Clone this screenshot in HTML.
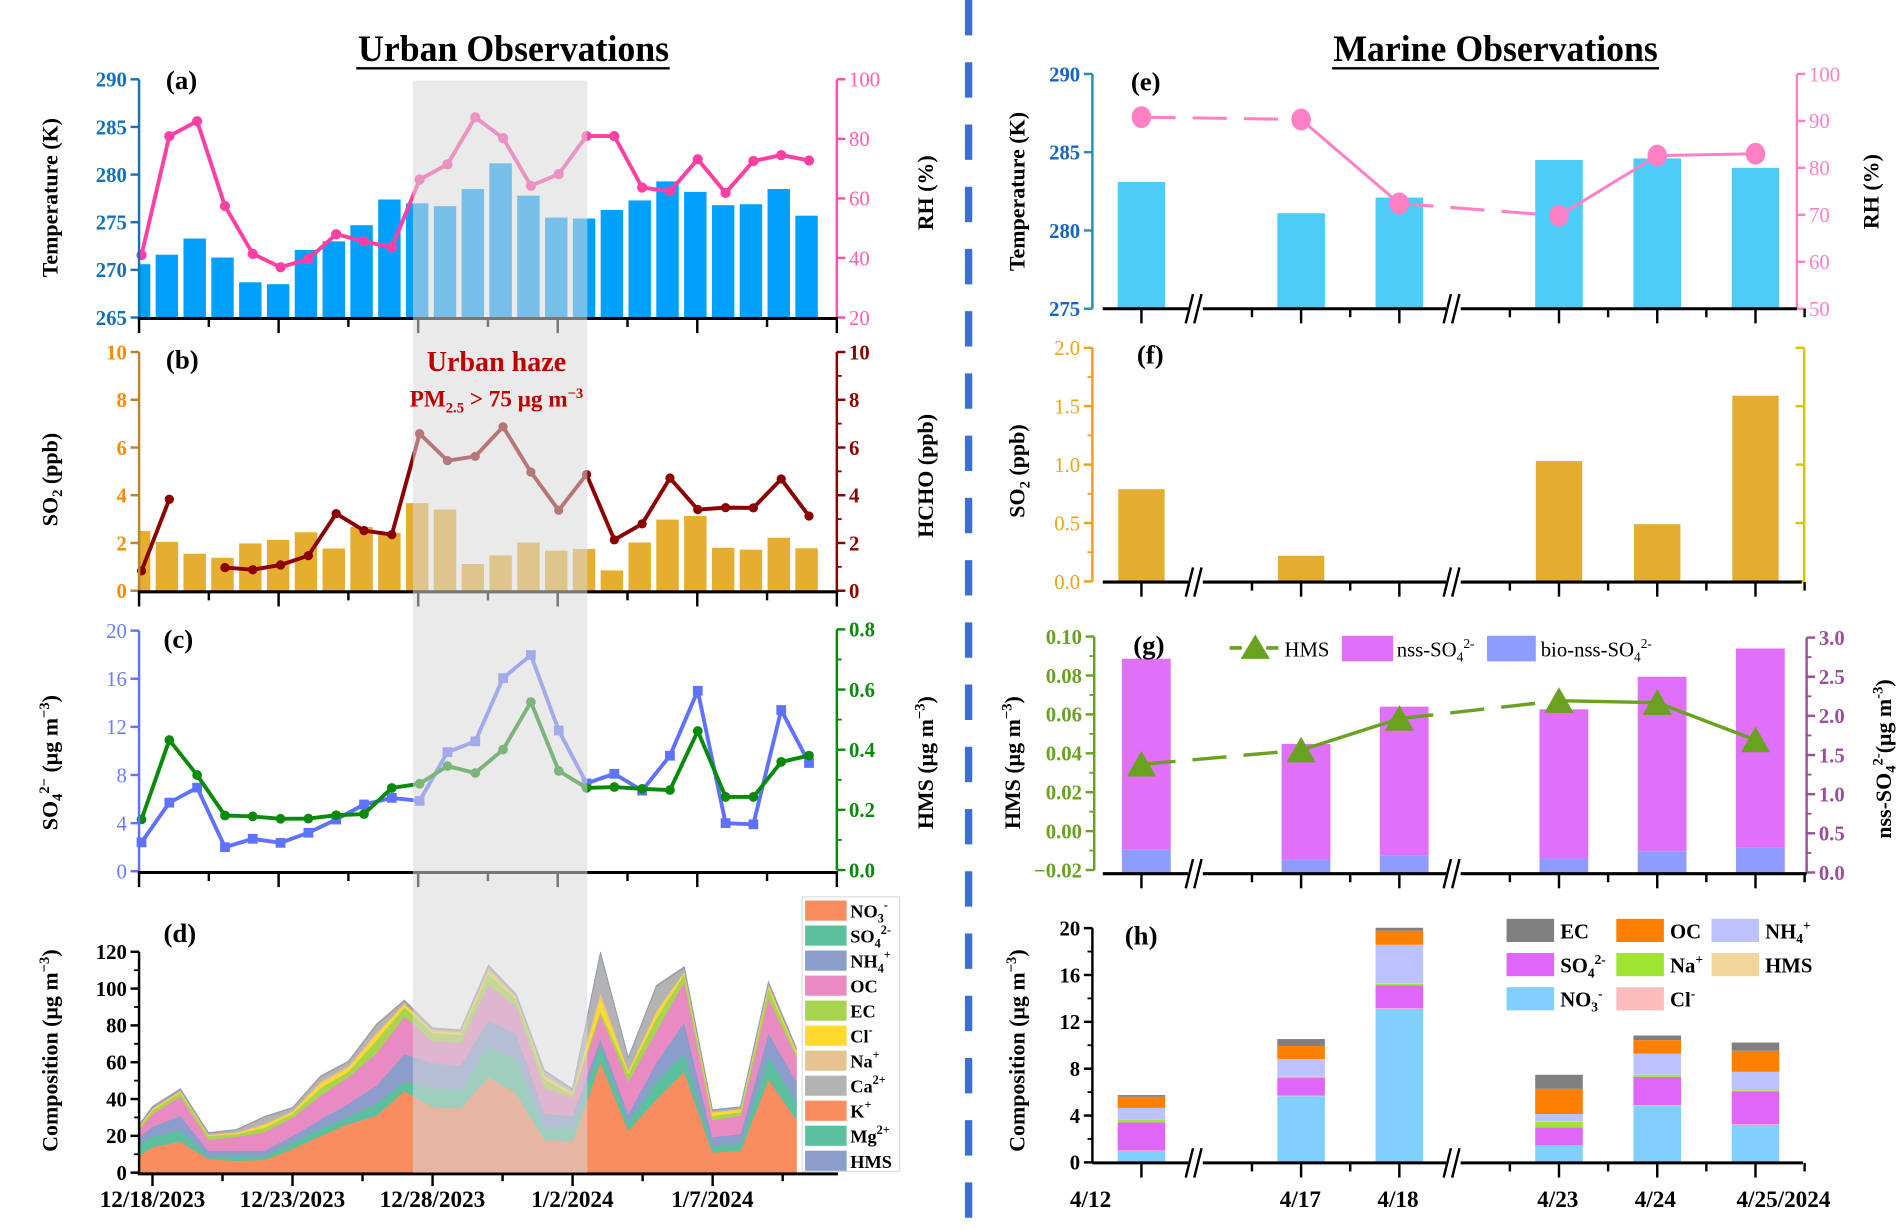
<!DOCTYPE html>
<html><head><meta charset="utf-8"><title>Urban and Marine Observations</title>
<style>
html,body{margin:0;padding:0;background:#fff;width:1903px;height:1230px;overflow:hidden}
svg{display:block;font-family:"Liberation Serif","DejaVu Serif",serif}
.ax{font-weight:bold;font-size:18px}
</style></head>
<body>
<svg id="fig" xmlns="http://www.w3.org/2000/svg" width="1903" height="1230" viewBox="0 0 1560 1008" preserveAspectRatio="none">
<defs>
<clipPath id="clipA"><rect x="114" y="50" width="572" height="220"/></clipPath>
<clipPath id="clipB"><rect x="114" y="280" width="572" height="205"/></clipPath>
</defs>
<text x="421" y="50" text-anchor="middle" font-size="30" font-weight="bold" textLength="255" lengthAdjust="spacingAndGlyphs">Urban Observations</text>
<line x1="292" y1="56" x2="549" y2="56" stroke="#000" stroke-width="2"/>
<text x="1226" y="50" text-anchor="middle" font-size="30" font-weight="bold" textLength="266" lengthAdjust="spacingAndGlyphs">Marine Observations</text>
<line x1="1092" y1="56" x2="1360" y2="56" stroke="#000" stroke-width="2"/>
<line x1="794" y1="0" x2="794" y2="1008" stroke="#3b6fd4" stroke-width="6" stroke-dasharray="29 22"/>
<g id="layer"></g>
<text class="ax" transform="translate(47,162) rotate(-90)" text-anchor="middle">Temperature (K)</text>
<text class="ax" transform="translate(765,158) rotate(-90)" text-anchor="middle">RH (%)</text>
<text class="ax" transform="translate(47,393) rotate(-90)" text-anchor="middle">SO<tspan font-size="12" dy="4">2</tspan><tspan dy="-4"> (ppb)</tspan></text>
<text class="ax" transform="translate(765,390) rotate(-90)" text-anchor="middle">HCHO (ppb)</text>
<text class="ax" transform="translate(47,625) rotate(-90)" text-anchor="middle">SO<tspan font-size="12" dy="4">4</tspan><tspan font-size="12" dy="-11">2−</tspan><tspan dy="7"> (μg m</tspan><tspan font-size="12" dy="-7">−3</tspan><tspan dy="7">)</tspan></text>
<text class="ax" transform="translate(765,625) rotate(-90)" text-anchor="middle">HMS (μg m<tspan font-size="12" dy="-7">−3</tspan><tspan dy="7">)</tspan></text>
<text class="ax" transform="translate(47,861) rotate(-90)" text-anchor="middle">Composition  (μg m<tspan font-size="12" dy="-7">−3</tspan><tspan dy="7">)</tspan></text>
<text class="ax" transform="translate(840,157) rotate(-90)" text-anchor="middle">Temperature (K)</text>
<text class="ax" transform="translate(1540,157) rotate(-90)" text-anchor="middle">RH (%)</text>
<text class="ax" transform="translate(840,386) rotate(-90)" text-anchor="middle">SO<tspan font-size="12" dy="4">2</tspan><tspan dy="-4"> (ppb)</tspan></text>
<text class="ax" transform="translate(836,625) rotate(-90)" text-anchor="middle">HMS (μg m<tspan font-size="12" dy="-7">−3</tspan><tspan dy="7">)</tspan></text>
<text class="ax" transform="translate(1550,622) rotate(-90)" text-anchor="middle">nss-SO<tspan font-size="12" dy="4">4</tspan><tspan font-size="12" dy="-11">2-</tspan><tspan dy="7">(μg m</tspan><tspan font-size="12" dy="-7">-3</tspan><tspan dy="7">)</tspan></text>
<text class="ax" transform="translate(840,861) rotate(-90)" text-anchor="middle">Composition  (μg m<tspan font-size="12" dy="-7">−3</tspan><tspan dy="7">)</tspan></text>
<text x="136" y="73" font-size="22" font-weight="bold">(a)</text>
<text x="136" y="302" font-size="22" font-weight="bold">(b)</text>
<text x="134" y="531" font-size="22" font-weight="bold">(c)</text>
<text x="134" y="772" font-size="22" font-weight="bold">(d)</text>
<text x="927" y="74" font-size="22" font-weight="bold">(e)</text>
<text x="932" y="298" font-size="22" font-weight="bold">(f)</text>
<text x="929" y="536" font-size="22" font-weight="bold">(g)</text>
<text x="922" y="774" font-size="22" font-weight="bold">(h)</text>
<text x="407" y="304" text-anchor="middle" font-size="23" font-weight="bold" fill="#c00000">Urban haze</text>
<text x="407" y="333" text-anchor="middle" font-size="19" font-weight="bold" fill="#c00000">PM<tspan font-size="12" dy="5">2.5</tspan><tspan dy="-5"> &gt; 75 μg m</tspan><tspan font-size="12" dy="-7">−3</tspan></text>
</svg>
<script>
const urbanDays = 25;
const tempA = [270.6,271.6,273.3,271.3,268.7,268.5,272.1,273.0,274.7,277.4,277.0,276.7,278.5,281.2,277.8,275.5,275.4,276.3,277.3,279.3,278.2,276.8,276.9,278.5,275.7];
const rhA = [41,81,86,57.5,41.4,36.9,39.7,48,45.6,43.6,66.4,71.5,87.3,80.3,64.3,68.2,81,81,63.7,62.4,73.2,61.9,72.6,74.6,72.8];
const so2B = [2.5,2.05,1.55,1.38,1.98,2.13,2.45,1.77,2.67,2.42,3.67,3.4,1.12,1.48,2.02,1.68,1.75,0.85,2.02,2.98,3.13,1.8,1.72,2.22,1.78];
const hchoB = [0.83,3.83,null,0.97,0.88,1.08,1.47,3.23,2.52,2.35,6.58,5.45,5.63,6.87,4.97,3.37,4.87,2.13,2.8,4.72,3.4,3.48,3.47,4.68,3.13];
const so4C = [2.4,5.7,6.95,2.0,2.7,2.36,3.2,4.3,5.55,6.1,5.85,9.9,10.8,16.05,17.97,11.7,7.3,8.1,6.7,9.6,15.0,4.0,3.9,13.4,9.0];
const hmsC = [0.169,0.434,0.317,0.182,0.179,0.171,0.172,0.183,0.187,0.274,0.288,0.347,0.324,0.402,0.561,0.331,0.274,0.277,0.271,0.267,0.464,0.244,0.244,0.361,0.382];
const dDays = [-0.5,0,1,2,3,4,5,6,7,8,9,10,11,12,13,14,15,16,17,18,19,20,21,22,23];
const dNO3 = [9,14,17,7.5,6.5,7,13,20,26.5,31,44.5,35.7,35,52,43,17.7,17.2,60,23,40,55,11,12,50.8,29];
const dSO4 = [6.5,5.5,6,1.5,2.5,2,3.5,4,4,6.5,5,10.3,10,16.4,19,6.6,7.1,9.5,4.6,9.7,10,3.3,4,12.2,9.6];
const dNH4 = [3.5,5.5,8,3,3,3,3.5,5,7,10,15,13.6,13,14.4,13.5,7.7,6.7,3.5,4.4,10.3,16.7,5.1,5,13,11.1];
const dOC = [4,7,10.5,6,7.5,10,10,13,14.5,17.5,20.5,12.1,12.6,19.2,15,14,10,13,17.7,17,22.3,9.3,10,19,13.3];
const dEC = [1,2,2,2,1.5,2.5,2,4,3,7,5,4.3,4.4,6,3.5,5,1.4,2,4.3,7,4,2.3,2,5.4,2];
const dCl = [0.5,0.5,0.6,0.5,0.5,1.5,1,2.5,2,3,1.5,1,1,2,1,1.5,0.9,7,1,3,1,1.7,1.2,1.1,1];
const dNa = [0.3,0.3,0.4,0.3,0.5,0.5,0.5,1,1,1,0.5,0.5,0.5,1,0.5,0.5,0.5,3,1,1,0.5,0.3,0.3,0.5,0.5];
const dCa = [0.2,0.5,0.5,0.5,1,3.5,1.5,2.5,2,4,1,0.5,0.5,1,0.5,2,1.2,21,6,13,1.5,0.8,0.8,1,0.5];
const dK = [0.3,0.3,0.3,0.2,0.2,0.2,0.2,0.3,0.3,0.4,0.4,0.3,0.3,0.4,0.3,0.3,0.2,0.4,0.3,0.4,0.4,0.2,0.2,0.4,0.3];
const dMg = [0.1,0.1,0.1,0.1,0.1,0.1,0.1,0.1,0.1,0.1,0.1,0.1,0.1,0.1,0.1,0.1,0.1,0.2,0.1,0.1,0.1,0.1,0.1,0.1,0.1];
const dHMS = [0.2,0.4,0.3,0.2,0.2,0.2,0.2,0.2,0.2,0.3,0.3,0.3,0.3,0.4,0.6,0.3,0.3,0.3,0.3,0.3,0.5,0.2,0.2,0.4,0.4];
const urbanTickLabels = ['12/18/2023','12/23/2023','12/28/2023','1/2/2024','1/7/2024'];
const marineCats = ['4/12','4/17','4/18','4/23','4/24','4/25/2024'];
const tempE = [283.1,281.1,282.1,284.5,284.6,284.0];
const rhE = [90.8,90.3,72.4,69.8,82.6,83.0];
const so2F = [0.79,0.22,null,1.03,0.49,1.59];
const bioG = [0.29,0.166,0.22,0.177,0.27,0.32];
const nssG = [2.43,1.47,1.89,1.90,2.22,2.53];
const hmsG = [0.0343,0.0416,0.0578,0.067,0.066,0.0468];
const hNO3 = [0.97,5.65,13.1,1.4,4.85,3.2];
const hCl = [0.05,0.05,0.05,0.05,0.05,0.05];
const hSO4 = [2.4,1.5,1.95,1.55,2.4,2.8];
const hNa = [0.24,0.1,0.15,0.47,0.15,0.1];
const hHMS = [0.03,0.03,0.03,0.03,0.03,0.03];
const hNH4 = [0.96,1.5,3.3,0.63,1.8,1.55];
const hOC = [0.95,1.1,1.2,2.15,1.15,1.8];
const hEC = [0.15,0.6,0.25,1.2,0.4,0.7];

const NS='http://www.w3.org/2000/svg';
const layer=document.getElementById('layer');
function mk(tag, attrs, name, parent){
  const el=document.createElementNS(NS,tag);
  for(const k in attrs) el.setAttribute(k,attrs[k]);
  
  
  (parent||layer).appendChild(el);
  return el;
}
function txt(x,y,s,attrs,name,parent){
  const el=mk('text',Object.assign({x:x,y:y},attrs),name,parent);
  el.textContent=s; return el;
}
function lin(x1,y1,x2,y2,stroke,w,name,parent){
  return mk('line',{x1:x1,y1:y1,x2:x2,y2:y2,stroke:stroke,'stroke-width':w},name,parent);
}
function yAxis(x,yTop,yBot,vmin,vmax,step,minorStep,color,labelColor,side,fmt,bold,name){
  const g=mk('g',{},name);
  lin(x,yTop,x,yBot,color,2,name+'-line',g);
  const sc=v=>yBot-(v-vmin)/(vmax-vmin)*(yBot-yTop);
  const dir=side==='left'?-1:1;
  if(minorStep){for(let v=vmin;v<=vmax+1e-9;v+=minorStep){lin(x,sc(v),x+dir*4,sc(v),color,1.5,name+'-minor-tick',g);}}
  for(let v=vmin;v<=vmax+1e-9;v+=step){
    const y=sc(v);
    lin(x,y,x+dir*7,y,color,2,name+'-tick',g);
    txt(x+dir*10,y+6,fmt(v),{'text-anchor':side==='left'?'end':'start','font-size':17,'font-weight':bold?'bold':'normal',fill:labelColor},name+'-tick-label',g);
  }
  return sc;
}
function poly(pts,stroke,w,name,dash){
  const a={points:pts.map(p=>p[0].toFixed(1)+','+p[1].toFixed(1)).join(' '),fill:'none',stroke:stroke,'stroke-width':w,'stroke-linejoin':'round'};
  if(dash) a['stroke-dasharray']=dash;
  return mk('polyline',a,name);
}

const xU = i => 114 + 22.8*i;
function urbanXAxis(y,name){
  const g=mk('g',{},name);
  lin(113,y,687,y,'#000',2.5,name+'-line',g);
  for(let k=0;k<=10;k++){
    const x=114+k*57.2;
    lin(x,y,x,y+(k%2===0?12:7),'#000',2,name+'-tick',g);
  }
}

const yT = v => 260.2-(v-265)*7.8;
const yRH = v => 260.2-(v-20)*2.4375;
const gA=mk('g',{'clip-path':'url(#clipA)'},'panel-a-bars');
tempA.forEach((v,i)=>{ mk('rect',{x:xU(i)-9.2,y:yT(v),width:18.4,height:yT(265)-yT(v),fill:'#00a0fb'},'temperature-bar',gA); });
poly(rhA.map((v,i)=>[xU(i)+2,yRH(v)]),'#ff3fa2',3.2,'rh-line');
rhA.forEach((v,i)=>{ mk('circle',{cx:xU(i)+2,cy:yRH(v),r:4.2,fill:'#ff3fa2'},'rh-point'); });
yAxis(114,65,260.2,265,290,5,0,'#1a6fb5','#1570b8','left',v=>v,true,'temperature-axis');
yAxis(686,65,260.2,20,100,20,0,'#ff4fa8','#ff5fb0','right',v=>v,false,'rh-axis');
urbanXAxis(261,'panel-a-x-axis');

const yB = v => 484.1 - v*19.56;
const gB=mk('g',{'clip-path':'url(#clipB)'},'panel-b-bars');
so2B.forEach((v,i)=>{ mk('rect',{x:xU(i)-9.2,y:yB(v),width:18.4,height:yB(0)-yB(v),fill:'#e5ae2f'},'so2-bar',gB); });
let seg=[];
const hchoSegs=[];
hchoB.forEach((v,i)=>{ if(v===null){ if(seg.length) hchoSegs.push(seg); seg=[]; } else seg.push([xU(i)+2,yB(v)]); });
if(seg.length) hchoSegs.push(seg);
hchoSegs.forEach(s=>poly(s,'#8b0000',3.2,'hcho-line'));
hchoB.forEach((v,i)=>{ if(v!==null) mk('circle',{cx:xU(i)+2,cy:yB(v),r:3.8,fill:'#8b0000'},'hcho-point'); });
yAxis(114,288.5,484.1,0,10,2,0,'#b5862c','#ff8a00','left',v=>v,true,'so2-axis');
yAxis(686,288.5,484.1,0,10,2,1,'#8b0000','#8b0000','right',v=>v,true,'hcho-axis');
urbanXAxis(485,'panel-b-x-axis');

const yS = v => 714 - v*9.86;
const yH = v => 713 - v*245.5;
poly(so4C.map((v,i)=>[xU(i)+2,yS(v)]),'#5f72ff',3.2,'sulfate-line');
so4C.forEach((v,i)=>{ mk('rect',{x:xU(i)-2,y:yS(v)-4,width:8,height:8,fill:'#5f72ff'},'sulfate-point'); });
poly(hmsC.map((v,i)=>[xU(i)+2,yH(v)]),'#0a8a0a',3.2,'hms-line');
hmsC.forEach((v,i)=>{ mk('circle',{cx:xU(i)+2,cy:yH(v),r:4,fill:'#0a8a0a'},'hms-point'); });
yAxis(114,516.8,714,0,20,4,0,'#5f72ff','#6a7cff','left',v=>v,false,'sulfate-axis');
yAxis(686,515.8,713,0,0.8,0.2,0.1,'#0a8a0a','#0a8a0a','right',v=>v.toFixed(1),true,'hms-axis');
urbanXAxis(715,'panel-c-x-axis');

const xD = d => 125 + 22.95*d;
const yD = v => 961 - v*1.508;
const dSeries=[[dNO3,'#f98d5f','no3-area'],[dSO4,'#5cc09e','so4-area'],[dNH4,'#8b9dcb','nh4-area'],[dOC,'#e88bc3','oc-area'],[dEC,'#a8d54f','ec-area'],[dCl,'#ffd92b','cl-area'],[dNa,'#e4c391','na-area'],[dCa,'#b3b3b3','ca-area'],[dK,'#f98d5f','k-area'],[dMg,'#5cc09e','mg-area'],[dHMS,'#8b9dcb','hms-area']];
const cum=dDays.map(()=>0);
dSeries.forEach(([arr,col,nm])=>{
  const lower=cum.slice();
  arr.forEach((v,i)=>cum[i]+=v);
  const top=dDays.map((d,i)=>xD(d).toFixed(1)+','+yD(cum[i]).toFixed(1));
  const bot=dDays.map((d,i)=>xD(d).toFixed(1)+','+yD(lower[i]).toFixed(1)).reverse();
  mk('polygon',{points:top.concat(bot).join(' '),fill:col,stroke:col,'stroke-width':0.6},nm);
});
yAxis(114,780,961,0,120,20,10,'#000','#000','left',v=>v,true,'composition-axis');
(function(){
  const g=mk('g',{},'panel-d-x-axis');
  lin(113,962,687,962,'#000',2.5,'panel-d-x-axis-line',g);
  for(let k=-1;k<=10;k++){
    const x=125+k*57.4;
    if(x<114||x>687) continue;
    lin(x,962,x,962+(k%2===0?10:6),'#000',2,'panel-d-x-tick',g);
  }
  urbanTickLabels.forEach((s,k)=>{ txt(125+k*114.75,989,s,{'text-anchor':'middle','font-size':19,'font-weight':'bold'},'date-tick-label',g); });
})();

mk('rect',{x:338.5,y:66,width:143,height:895,fill:'#d8d8d8','fill-opacity':0.55},'urban-haze-shading');

(function(){
  const g=mk('g',{},'composition-legend');
  mk('rect',{x:657.5,y:735,width:80,height:225,fill:'#fff',stroke:'#ddd','stroke-width':1},'composition-legend-box',g);
  const labs=[['NO','3','-'],['SO','4','2-'],['NH','4','+'],['OC','',''],['EC','',''],['Cl','','-'],['Na','','+'],['Ca','','2+'],['K','','+'],['Mg','','2+'],['HMS','','']];
  labs.forEach((l,i)=>{
    const y=738+i*20.5;
    mk('rect',{x:660,y:y,width:34,height:16.5,fill:dSeries[i][1]},'legend-swatch',g);
    const t=txt(697,y+14,l[0],{'font-size':15,'font-weight':'bold'},'legend-label',g);
    if(l[1]){const s=document.createElementNS(NS,'tspan');s.setAttribute('font-size','10');s.setAttribute('dy','4');s.textContent=l[1];t.appendChild(s);}
    if(l[2]){const s=document.createElementNS(NS,'tspan');s.setAttribute('font-size','10');s.setAttribute('dy',l[1]?'-11':'-7');s.textContent=l[2];t.appendChild(s);}
  });
})();

function xM(i){ const slot=[0,3.25,5.25,8.5,10.5,12.5][i]; return 935.7 + slot*40.27; }
const slotX = s => 935.7 + s*40.27;
function marineXAxis(y,x0,x1,name){
  const g=mk('g',{},name);
  lin(x0,y,x1,y,'#000',2.5,name+'-line',g);
  [0,3.25,5.25,8.5,10.5,12.5].forEach(s=>lin(slotX(s),y,slotX(s),y+12,'#000',2,name+'-major-tick',g));
  [2.25,4.25,7.5,9.5,11.5,13.5].forEach(s=>lin(slotX(s),y,slotX(s),y+7,'#000',2,name+'-minor-tick',g));
  [1.1,6.35].forEach(s=>{
    const x=slotX(s);
    mk('rect',{x:x-6,y:y-3,width:12,height:6,fill:'#fff'},name+'-break-gap',g);
    lin(x-8,y+12,x-2,y-12,'#000',2,name+'-break-mark',g);
    lin(x-1,y+12,x+5,y-12,'#000',2,name+'-break-mark',g);
  });
}
function breakLine(vals,xf,yf,color,w,name){
  for(let i=0;i<vals.length-1;i++){
    const dashed=(i===0||i===2);
    const l=lin(xf(i),yf(vals[i]),xf(i+1),yf(vals[i+1]),color,w,name,null);
    if(dashed) l.setAttribute('stroke-dasharray','28 14');
  }
}

const yTE = v => 253 - (v-275)*12.83;
const yRE = v => 253 - (v-50)*3.848;
tempE.forEach((v,i)=>{ mk('rect',{x:xM(i)-19.5,y:yTE(v),width:39,height:253-yTE(v),fill:'#4ccdf8'},'marine-temperature-bar'); });
breakLine(rhE,xM,yRE,'#ff80c4',2.5,'marine-rh-line');
rhE.forEach((v,i)=>{ mk('ellipse',{cx:xM(i),cy:yRE(v),rx:8,ry:9,fill:'#ff80c4'},'marine-rh-point'); });
yAxis(895.5,60.6,253,275,290,5,0,'#2a8db0','#1565c0','left',v=>v,true,'marine-temperature-axis');
yAxis(1473,60.6,253,50,100,10,0,'#ff80c4','#ff80c4','right',v=>v,false,'marine-rh-axis');
marineXAxis(253,904,1473,'panel-e-x-axis');

const yF = v => 476.5 - v*95.75;
so2F.forEach((v,i)=>{ if(v!==null) mk('rect',{x:xM(i)-19,y:yF(v),width:38,height:476.5-yF(v),fill:'#e3ae30'},'marine-so2-bar'); });
yAxis(895.5,285,476.5,0,2,0.5,0.25,'#e8a317','#e8a317','left',v=>v.toFixed(1),false,'marine-so2-axis');
(function(){const g=mk('g',{},'marine-so2-right-axis');
  lin(1479,285,1479,476.5,'#d8c400',2,'marine-so2-right-axis-line',g);
  for(let v=0;v<=2.0001;v+=0.5) lin(1479,yF(v),1472,yF(v),'#d8c400',2,'marine-so2-right-tick',g);})();
marineXAxis(477,904,1477,'panel-f-x-axis');

const yGL = v => 713 - (v+0.02)*1595;
const yGR = v => 715 - v*64.4;
bioG.forEach((b,i)=>{
  const n=nssG[i];
  mk('rect',{x:xM(i)-16,y:yGR(b+n),width:40,height:yGR(b)-yGR(b+n),fill:'#e070fa'},'nss-sulfate-bar');
  mk('rect',{x:xM(i)-16,y:yGR(b),width:40,height:yGR(0)-yGR(b),fill:'#8f9cff'},'bio-nss-sulfate-bar');
});
breakLine(hmsG,xM,yGL,'#6aa121',2.8,'marine-hms-line');
hmsG.forEach((v,i)=>{ const x=xM(i),y=yGL(v); mk('polygon',{points:(x-12)+','+(y+10)+' '+(x+12)+','+(y+10)+' '+x+','+(y-11),fill:'#6aa121'},'marine-hms-point'); });
yAxis(897,521.7,713,-0.02,0.1,0.02,0.01,'#6aa121','#6aa121','left',v=>(Math.abs(v)<1e-9?'0.00':(v<0?'−':'')+Math.abs(v).toFixed(2)),true,'marine-hms-axis');
yAxis(1481,522.5,715,0,3,0.5,0.25,'#9b4f9b','#9b4f9b','right',v=>v.toFixed(1),true,'nss-sulfate-axis');
marineXAxis(716,904,1481,'panel-g-x-axis');
(function(){const g=mk('g',{},'panel-g-legend');
  lin(1008,531,1050,531,'#6aa121',3,'legend-hms-line',g).setAttribute('stroke-dasharray','10 5');
  mk('polygon',{points:'1017,540 1041,540 1029,520',fill:'#6aa121'},'legend-hms-marker',g);
  txt(1053,538,'HMS',{'font-size':17},'legend-hms-label',g);
  mk('rect',{x:1100,y:521,width:42,height:21,fill:'#e070fa'},'legend-nss-swatch',g);
  const t=txt(1145,538,'nss-SO',{'font-size':17},'legend-nss-label',g);
  t.innerHTML='nss-SO<tspan font-size="11" dy="4">4</tspan><tspan font-size="11" dy="-11">2-</tspan>';
  mk('rect',{x:1219,y:521,width:40,height:21,fill:'#8f9cff'},'legend-bio-swatch',g);
  const t2=txt(1263,538,'bio-nss-SO',{'font-size':17},'legend-bio-label',g);
  t2.innerHTML='bio-nss-SO<tspan font-size="11" dy="4">4</tspan><tspan font-size="11" dy="-11">2-</tspan>';
})();

const yHh = v => 952.6 - v*9.6;
const hSeries=[[hNO3,'#80cfff','no3-bar'],[hCl,'#fbbcbc','cl-bar'],[hSO4,'#e066fa','so4-bar'],[hNa,'#9fe432','na-bar'],[hHMS,'#f1d59b','hms-bar'],[hNH4,'#bcc1ff','nh4-bar'],[hOC,'#ff7f00','oc-bar'],[hEC,'#808080','ec-bar']];
const hc=marineCats.map(()=>0);
hSeries.forEach(([arr,col,nm])=>{
  arr.forEach((v,i)=>{ mk('rect',{x:xM(i)-19.5,y:yHh(hc[i]+v),width:39,height:v*9.6,fill:col},nm); hc[i]+=v; });
});
yAxis(895.5,760.6,952.6,0,20,4,2,'#000','#000','left',v=>v,true,'marine-composition-axis');
marineXAxis(953,895.5,1478,'panel-h-x-axis');
(function(){const g=mk('g',{},'marine-date-labels');
  const lx=[894,1066,1146,1277,1357,1462];
  marineCats.forEach((s,i)=>txt(lx[i],989,s,{'text-anchor':'middle','font-size':19,'font-weight':'bold'},'marine-date-tick-label',g));})();
(function(){const g=mk('g',{},'panel-h-legend');
  const items=[['EC','','',7,1235,753],['OC','','',6,1325,753],['NH','4','+',5,1403,753],['SO','4','2-',2,1235,781],['Na','','+',3,1325,781],['HMS','','',4,1403,781],['NO','3','-',0,1235,809],['Cl','','-',1,1325,809]];
  items.forEach(it=>{
    mk('rect',{x:it[4],y:it[5],width:39,height:19,fill:hSeries[it[3]][1]},'legend-swatch',g);
    const t=txt(it[4]+44,it[5]+16,it[0],{'font-size':17,'font-weight':'bold'},'legend-label',g);
    let h=it[0];
    if(it[1]) h+='<tspan font-size="11" dy="4">'+it[1]+'</tspan>';
    if(it[2]) h+='<tspan font-size="11" dy="'+(it[1]?-11:-7)+'">'+it[2]+'</tspan>';
    t.innerHTML=h;
  });})();
</script>
</body></html>
